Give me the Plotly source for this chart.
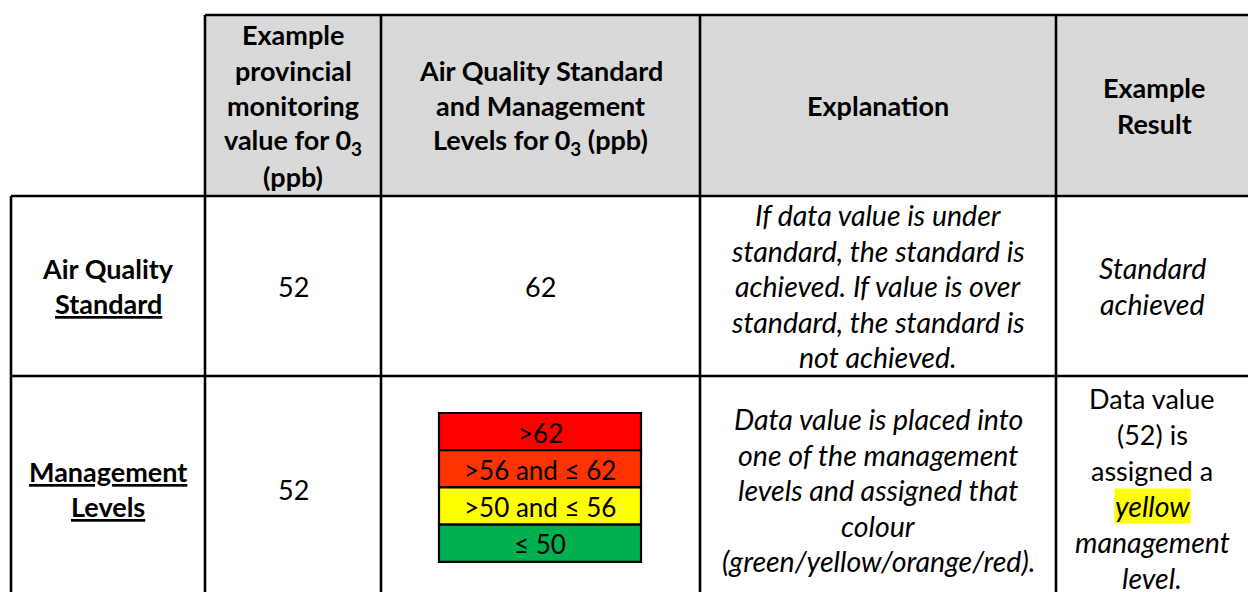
import plotly.graph_objects as go

# ---------------- data ----------------
col_headers = [
    "Example\nprovincial\nmonitoring\nvalue for 0<sub>3</sub>\n(ppb)",
    "Air Quality Standard\nand Management\nLevels for 0<sub>3</sub> (ppb)",
    "Explanation",
    "Example\nResult",
]
row_labels = ["Air Quality\n<u>Standard</u>", "<u>Management</u>\n<u>Levels</u>"]
monitoring_values = [52, 52]
standard_value = 62
explanations = [
    "If data value is under\nstandard, the standard is\nachieved. If value is over\nstandard, the standard is\nnot achieved.",
    "Data value is placed into\none of the management\nlevels and assigned that\ncolour\n(green/yellow/orange/red).",
]
results = [
    "<i>Standard</i>\n<i>achieved</i>",
    "Data value\n(52) is\nassigned a\n<i>yellow</i>\n<i>management</i>\n<i>level.</i>",
]
highlight_word = "yellow"
level_labels = [">62", ">56 and ≤ 62", ">50 and ≤ 56", "≤ 50"]
level_colours = ["#FF0000", "#FF3300", "#FFFF00", "#00B050"]

# ---------------- layout constants ----------------
W, H = 1248, 592
FONT = "Lato"
FS = 27          # regular / bold
FS_IT = 28.5     # italic lines
LINE = 35.5
col_x = [11, 205, 381, 700, 1056, 1252]
head_top, head_bot, row1_bot, row2_bot = 15, 196, 376, 602
row_mid = [(head_bot + row1_bot) / 2, 489]
band_x0, band_x1 = 439, 641
band_y0, band_h = 413, 37.2
BW = 2.6

fig = go.Figure()
shapes = []
annotations = []


def add_lines(text, xc, yc, bold=False, italic=False, spacing=LINE, hl=None):
    lines = text.split("\n")
    n = len(lines)
    for i, ln in enumerate(lines):
        t = ln
        is_it = italic or ln.startswith("<i>")
        if italic:
            t = "<i>" + t + "</i>"
        if bold:
            t = "<b>" + t + "</b>"
        y = yc + (i - (n - 1) / 2) * spacing
        kw = {}
        if hl is not None and hl in ln:
            kw = dict(bgcolor="#FFFF00", borderpad=0)
        annotations.append(dict(
            x=xc, y=y, xref="x", yref="y", text=t, showarrow=False,
            xanchor="center", yanchor="middle",
            font=dict(family=FONT, size=FS_IT if is_it else FS, color="#000000"), **kw))


# header background
shapes.append(dict(type="rect", x0=col_x[1], x1=col_x[5], y0=head_top, y1=head_bot,
                   fillcolor="#D9D9D9", line=dict(width=0), layer="below"))

# grid lines
line_style = dict(color="#000000", width=BW)
shapes.append(dict(type="line", x0=col_x[1], x1=col_x[5], y0=head_top, y1=head_top, line=line_style))
shapes.append(dict(type="line", x0=col_x[0], x1=col_x[5], y0=head_bot, y1=head_bot, line=line_style))
shapes.append(dict(type="line", x0=col_x[0], x1=col_x[5], y0=row1_bot, y1=row1_bot, line=line_style))
shapes.append(dict(type="line", x0=col_x[0], x1=col_x[0], y0=head_bot, y1=row2_bot, line=line_style))
for cx in col_x[1:5]:
    shapes.append(dict(type="line", x0=cx, x1=cx, y0=head_top, y1=row2_bot, line=line_style))

# header texts
for j, h in enumerate(col_headers):
    xc = (col_x[j + 1] + col_x[j + 2]) / 2
    yc = (head_top + head_bot) / 2
    add_lines(h, xc, yc, bold=True)

# row labels
for i, lab in enumerate(row_labels):
    add_lines(lab, (col_x[0] + col_x[1]) / 2, row_mid[i], bold=True)

# monitoring values
for i, v in enumerate(monitoring_values):
    add_lines(str(v), (col_x[1] + col_x[2]) / 2, row_mid[i])

# standard value
add_lines(str(standard_value), (col_x[2] + col_x[3]) / 2, row_mid[0])

# management level bands
for k, (lab, colr) in enumerate(zip(level_labels, level_colours)):
    y0 = band_y0 + k * band_h
    y1 = y0 + band_h
    shapes.append(dict(type="rect", x0=band_x0, x1=band_x1, y0=y0, y1=y1,
                       fillcolor=colr, line=dict(color="#000000", width=2.2)))
    annotations.append(dict(x=(band_x0 + band_x1) / 2, y=(y0 + y1) / 2 + 1, xref="x", yref="y",
                            text=lab, showarrow=False, xanchor="center", yanchor="middle",
                            font=dict(family=FONT, size=26, color="#000000")))

# explanations
for i, e in enumerate(explanations):
    add_lines(e, (col_x[3] + col_x[4]) / 2, row_mid[i] + (1 if i == 1 else 0), italic=True)

# results
for i, r in enumerate(results):
    add_lines(r, (col_x[4] + 1248) / 2, row_mid[i] - (1 if i == 1 else 0),
              spacing=36, hl=highlight_word if i == 1 else None)

fig.update_layout(
    width=W, height=H,
    margin=dict(l=0, r=0, t=0, b=0),
    paper_bgcolor="#FFFFFF", plot_bgcolor="#FFFFFF",
    xaxis=dict(range=[0, W], visible=False, fixedrange=True),
    yaxis=dict(range=[H, 0], visible=False, fixedrange=True),
    shapes=shapes, annotations=annotations, showlegend=False,
)
fig.write_html(
    "out.html",
    config=dict(displayModeBar=False),
    post_script="document.body.style.margin='0';document.body.style.overflow='hidden';",
)
